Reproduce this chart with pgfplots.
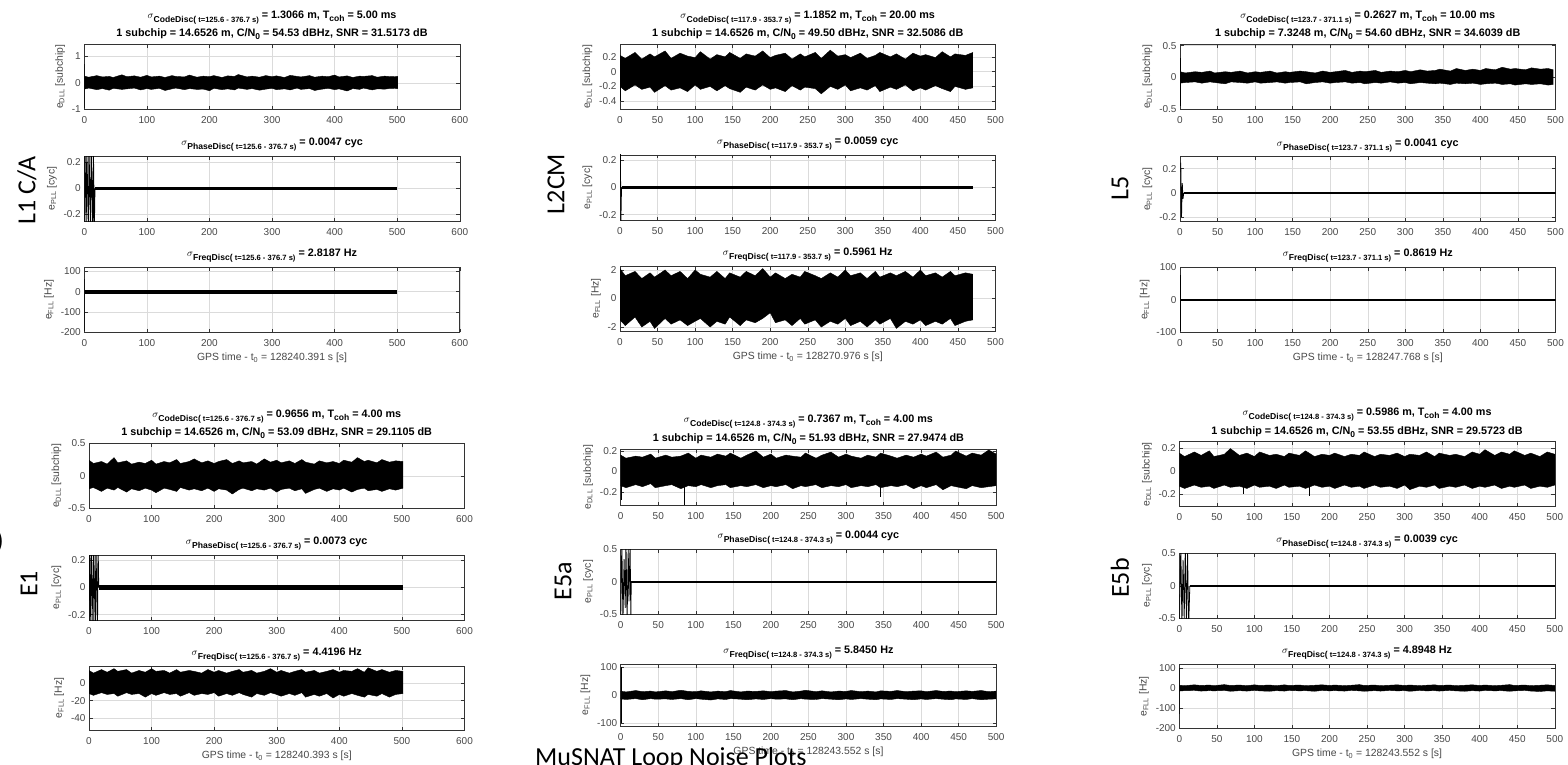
\documentclass[border=0pt]{standalone}
\usepackage{pgfplots}
\pgfplotsset{compat=1.18}
\usepackage{pgfplotstable}
\usepgfplotslibrary{fillbetween}
\usepackage{fontspec}
\setmainfont{Liberation Sans}
\newfontfamily\carlito{Carlito}

% subscripts as MATLAB's tex interpreter sets them
\newcommand\lo[1]{\raisebox{-0.5ex}{\fontsize{8.5}{8.5}\selectfont #1}}
\newcommand\sig[2]{{\normalfont\fontsize{10}{10}\selectfont$\sigma$}\raisebox{-0.7ex}{\fontsize{8.6}{8.6}\selectfont #1(\fontsize{7.6}{7.6}\selectfont\ #2)}\ }

% noise envelopes: x, upper, lower
\pgfplotstableread[row sep=\\]{x u l\\
0 0.25 -0.24\\ 7 0.21 -0.20\\ 20 0.27 -0.26\\ 29 0.22 -0.22\\ 40 0.24 -0.28\\ 46 0.20 -0.21\\ 60 0.30 -0.25\\ 68 0.23 -0.23\\ 80 0.26 -0.20\\ 90 0.21 -0.27\\
100 0.28 -0.22\\ 107 0.22 -0.25\\ 120 0.25 -0.21\\ 129 0.20 -0.29\\ 140 0.27 -0.23\\ 146 0.24 -0.20\\ 160 0.22 -0.26\\ 168 0.29 -0.22\\ 180 0.21 -0.25\\ 190 0.25 -0.24\\
200 0.23 -0.30\\ 207 0.27 -0.21\\ 220 0.20 -0.26\\ 229 0.26 -0.23\\ 240 0.24 -0.27\\ 246 0.31 -0.20\\ 260 0.22 -0.25\\ 268 0.25 -0.22\\ 280 0.21 -0.28\\ 290 0.27 -0.24\\
300 0.23 -0.21\\ 307 0.26 -0.26\\ 320 0.20 -0.23\\ 329 0.28 -0.27\\ 340 0.24 -0.20\\ 346 0.22 -0.25\\ 360 0.27 -0.22\\ 368 0.21 -0.29\\ 380 0.25 -0.24\\ 390 0.23 -0.21\\
400 0.29 -0.26\\ 407 0.22 -0.23\\ 420 0.26 -0.31\\ 429 0.20 -0.22\\ 440 0.25 -0.25\\ 446 0.24 -0.20\\ 460 0.27 -0.27\\ 468 0.21 -0.23\\ 480 0.25 -0.24\\ 490 0.23 -0.21\\ 501 0.24 -0.22\\
}\dllA
\pgfplotstableread[row sep=\\]{x u l\\
0 0.22 -0.20\\ 7 0.18 -0.26\\ 20 0.26 -0.18\\ 29 0.17 -0.24\\ 40 0.24 -0.21\\ 46 0.20 -0.28\\ 60 0.28 -0.19\\ 68 0.18 -0.25\\ 80 0.25 -0.22\\ 90 0.21 -0.27\\
100 0.19 -0.18\\ 107 0.27 -0.24\\ 120 0.17 -0.20\\ 129 0.23 -0.26\\ 140 0.20 -0.19\\ 146 0.26 -0.23\\ 160 0.18 -0.28\\ 168 0.24 -0.21\\ 180 0.21 -0.25\\ 190 0.28 -0.18\\
200 0.19 -0.24\\ 207 0.22 -0.22\\ 220 0.25 -0.27\\ 229 0.17 -0.19\\ 240 0.24 -0.25\\ 246 0.20 -0.21\\ 260 0.26 -0.23\\ 268 0.18 -0.30\\ 280 0.29 -0.20\\ 290 0.21 -0.24\\
300 0.23 -0.18\\ 307 0.19 -0.26\\ 320 0.25 -0.22\\ 329 0.18 -0.25\\ 340 0.22 -0.19\\ 346 0.26 -0.27\\ 360 0.20 -0.21\\ 368 0.24 -0.24\\ 380 0.17 -0.18\\ 390 0.25 -0.26\\
400 0.21 -0.22\\ 407 0.23 -0.25\\ 420 0.19 -0.19\\ 429 0.27 -0.23\\ 440 0.20 -0.27\\ 446 0.24 -0.20\\ 460 0.22 -0.24\\ 470 0.26 -0.22\\
}\dllB
\pgfplotstableread[row sep=\\]{x u l\\
0 2.1 -1.5\\ 7 1.6 -1.9\\ 20 1.9 -1.3\\ 29 1.4 -2.0\\ 40 1.8 -1.6\\ 46 1.5 -2.1\\ 60 2.0 -1.4\\ 68 1.6 -1.8\\ 80 1.9 -1.5\\ 90 1.4 -1.9\\
100 2.0 -1.6\\ 107 1.7 -1.4\\ 120 1.5 -2.0\\ 129 1.9 -1.6\\ 140 1.4 -1.8\\ 146 1.8 -1.3\\ 160 1.5 -1.9\\ 168 1.9 -1.5\\ 180 1.6 -1.7\\ 190 2.1 -1.4\\
200 1.5 -1.0\\ 207 1.8 -1.7\\ 220 1.4 -1.5\\ 229 1.7 -1.9\\ 240 1.5 -1.4\\ 246 1.9 -1.8\\ 260 1.6 -1.5\\ 268 1.4 -2.0\\ 280 1.8 -1.6\\ 290 1.5 -1.8\\
300 2.0 -1.4\\ 307 1.6 -1.9\\ 320 1.8 -1.6\\ 329 1.4 -2.0\\ 340 1.9 -1.5\\ 346 1.5 -1.8\\ 360 1.8 -1.4\\ 368 1.6 -2.1\\ 380 1.9 -1.6\\ 390 1.5 -1.8\\
400 2.0 -1.5\\ 407 1.6 -1.9\\ 420 1.8 -1.6\\ 429 1.5 -1.8\\ 440 1.9 -1.4\\ 446 1.6 -1.9\\ 460 1.8 -1.6\\ 470 1.7 -1.5\\
}\fllB
\pgfplotstableread[row sep=\\]{x u l\\
0 0.09 -0.09\\ 7 0.07 -0.08\\ 20 0.09 -0.07\\ 29 0.08 -0.09\\ 40 0.10 -0.07\\ 46 0.07 -0.08\\ 60 0.09 -0.10\\ 68 0.08 -0.07\\ 80 0.10 -0.08\\ 90 0.07 -0.09\\
100 0.09 -0.07\\ 107 0.08 -0.09\\ 120 0.10 -0.08\\ 129 0.07 -0.07\\ 140 0.09 -0.09\\ 146 0.08 -0.08\\ 160 0.10 -0.07\\ 168 0.09 -0.10\\ 180 0.07 -0.08\\ 190 0.10 -0.07\\
200 0.08 -0.09\\ 207 0.09 -0.08\\ 220 0.11 -0.07\\ 229 0.08 -0.09\\ 240 0.10 -0.08\\ 246 0.09 -0.10\\ 260 0.11 -0.08\\ 268 0.08 -0.09\\ 280 0.10 -0.07\\ 290 0.09 -0.09\\
300 0.11 -0.08\\ 307 0.09 -0.10\\ 320 0.12 -0.08\\ 329 0.10 -0.09\\ 340 0.11 -0.10\\ 346 0.13 -0.09\\ 360 0.10 -0.11\\ 368 0.14 -0.09\\ 380 0.11 -0.10\\ 390 0.13 -0.09\\
400 0.11 -0.11\\ 407 0.14 -0.10\\ 420 0.12 -0.09\\ 429 0.16 -0.11\\ 440 0.13 -0.10\\ 446 0.14 -0.12\\ 460 0.12 -0.10\\ 468 0.15 -0.11\\ 480 0.13 -0.10\\ 490 0.14 -0.12\\ 497 0.12 -0.11\\
}\dllC
\pgfplotstableread[row sep=\\]{x u l\\
0 0.24 -0.20\\ 7 0.19 -0.18\\ 20 0.22 -0.24\\ 29 0.18 -0.19\\ 40 0.28 -0.22\\ 46 0.20 -0.18\\ 60 0.23 -0.25\\ 68 0.18 -0.20\\ 80 0.21 -0.23\\ 90 0.19 -0.19\\
100 0.24 -0.22\\ 107 0.18 -0.26\\ 120 0.22 -0.19\\ 129 0.20 -0.21\\ 140 0.25 -0.24\\ 146 0.19 -0.18\\ 160 0.22 -0.22\\ 168 0.26 -0.20\\ 180 0.20 -0.23\\ 190 0.23 -0.19\\
200 0.19 -0.24\\ 207 0.22 -0.20\\ 220 0.25 -0.22\\ 229 0.19 -0.28\\ 240 0.23 -0.21\\ 246 0.20 -0.19\\ 260 0.22 -0.23\\ 268 0.18 -0.20\\ 280 0.26 -0.22\\ 290 0.21 -0.19\\
300 0.24 -0.25\\ 307 0.20 -0.21\\ 320 0.23 -0.19\\ 329 0.19 -0.23\\ 340 0.25 -0.20\\ 346 0.21 -0.27\\ 360 0.18 -0.21\\ 368 0.23 -0.19\\ 380 0.20 -0.24\\ 390 0.22 -0.20\\
400 0.19 -0.22\\ 407 0.24 -0.19\\ 420 0.21 -0.25\\ 429 0.28 -0.21\\ 440 0.22 -0.19\\ 446 0.24 -0.23\\ 460 0.20 -0.21\\ 468 0.25 -0.24\\ 480 0.21 -0.20\\ 490 0.23 -0.22\\ 502 0.22 -0.19\\
}\dllD
\pgfplotstableread[row sep=\\]{x u l\\
0 14 -12\\ 7 11 -14\\ 20 15 -11\\ 29 12 -13\\ 40 16 -12\\ 46 13 -15\\ 60 15 -11\\ 68 11 -13\\ 80 14 -12\\ 90 12 -16\\
100 16 -12\\ 107 13 -14\\ 120 14 -11\\ 129 11 -13\\ 140 15 -12\\ 146 12 -15\\ 160 14 -11\\ 168 13 -14\\ 180 11 -12\\ 190 15 -13\\
200 12 -11\\ 207 14 -15\\ 220 11 -12\\ 229 13 -14\\ 240 15 -11\\ 246 12 -13\\ 260 14 -16\\ 268 11 -12\\ 280 13 -14\\ 290 16 -11\\
300 12 -13\\ 307 14 -15\\ 320 11 -12\\ 329 13 -14\\ 340 15 -11\\ 346 12 -16\\ 360 14 -13\\ 368 11 -15\\ 380 13 -12\\ 390 15 -17\\
400 12 -13\\ 407 14 -15\\ 420 13 -12\\ 429 16 -14\\ 440 12 -16\\ 446 17 -13\\ 460 13 -15\\ 468 15 -12\\ 480 12 -16\\ 490 14 -13\\ 502 13 -12\\
}\fllD
\pgfplotstableread[row sep=\\]{x u l\\
0 0.16 -0.14\\ 7 0.13 -0.16\\ 20 0.15 -0.13\\ 29 0.14 -0.15\\ 40 0.17 -0.12\\ 46 0.13 -0.16\\ 60 0.16 -0.14\\ 68 0.14 -0.13\\ 80 0.15 -0.17\\ 90 0.18 -0.14\\
100 0.13 -0.15\\ 107 0.16 -0.13\\ 120 0.14 -0.16\\ 129 0.17 -0.14\\ 140 0.15 -0.13\\ 146 0.18 -0.16\\ 160 0.13 -0.14\\ 168 0.16 -0.15\\ 180 0.20 -0.13\\ 190 0.14 -0.16\\
200 0.17 -0.14\\ 207 0.13 -0.15\\ 220 0.16 -0.13\\ 229 0.15 -0.17\\ 240 0.14 -0.14\\ 246 0.18 -0.15\\ 260 0.13 -0.13\\ 268 0.16 -0.16\\ 280 0.19 -0.14\\ 290 0.14 -0.15\\
300 0.17 -0.13\\ 307 0.15 -0.16\\ 320 0.13 -0.14\\ 329 0.16 -0.15\\ 340 0.14 -0.13\\ 346 0.18 -0.16\\ 360 0.15 -0.14\\ 368 0.13 -0.15\\ 380 0.16 -0.13\\ 390 0.14 -0.17\\
400 0.17 -0.14\\ 407 0.15 -0.16\\ 420 0.19 -0.13\\ 429 0.14 -0.18\\ 440 0.16 -0.14\\ 446 0.20 -0.15\\ 460 0.15 -0.17\\ 468 0.18 -0.14\\ 480 0.16 -0.16\\ 490 0.21 -0.15\\ 500 0.17 -0.14\\
}\dllE
\pgfplotstableread[row sep=\\]{x u l\\
0 15 -13\\ 7 12 -15\\ 20 17 -12\\ 29 13 -16\\ 40 15 -12\\ 46 12 -14\\ 60 16 -13\\ 68 13 -15\\ 80 18 -12\\ 90 14 -16\\
100 13 -12\\ 107 16 -14\\ 120 12 -17\\ 129 15 -13\\ 140 13 -15\\ 146 17 -12\\ 160 12 -14\\ 168 15 -16\\ 180 14 -13\\ 190 16 -15\\
200 13 -12\\ 207 15 -14\\ 220 17 -13\\ 229 12 -16\\ 240 15 -12\\ 246 18 -14\\ 260 13 -15\\ 268 16 -12\\ 280 12 -14\\ 290 15 -16\\
300 14 -13\\ 307 17 -15\\ 320 13 -12\\ 329 15 -14\\ 340 12 -16\\ 346 16 -13\\ 360 14 -15\\ 368 17 -12\\ 380 13 -14\\ 390 15 -16\\
400 16 -13\\ 407 13 -15\\ 420 17 -12\\ 429 14 -14\\ 440 15 -16\\ 446 13 -13\\ 460 16 -15\\ 468 14 -12\\ 480 17 -16\\ 490 13 -14\\ 500 15 -13\\
}\fllE
\pgfplotstableread[row sep=\\]{x u l\\
0 0.16 -0.13\\ 7 0.13 -0.15\\ 20 0.17 -0.12\\ 29 0.14 -0.14\\ 40 0.18 -0.13\\ 46 0.13 -0.15\\ 60 0.15 -0.12\\ 68 0.20 -0.14\\ 80 0.14 -0.13\\ 90 0.16 -0.15\\
100 0.13 -0.12\\ 107 0.17 -0.14\\ 120 0.14 -0.13\\ 129 0.15 -0.15\\ 140 0.13 -0.12\\ 146 0.16 -0.14\\ 160 0.14 -0.13\\ 168 0.18 -0.15\\ 180 0.13 -0.12\\ 190 0.15 -0.14\\
200 0.14 -0.13\\ 207 0.16 -0.15\\ 220 0.13 -0.12\\ 229 0.15 -0.14\\ 240 0.14 -0.13\\ 246 0.17 -0.15\\ 260 0.13 -0.12\\ 268 0.15 -0.14\\ 280 0.14 -0.13\\ 290 0.16 -0.15\\
300 0.13 -0.12\\ 307 0.15 -0.16\\ 320 0.14 -0.13\\ 329 0.17 -0.14\\ 340 0.13 -0.12\\ 346 0.16 -0.15\\ 360 0.14 -0.13\\ 368 0.15 -0.14\\ 380 0.13 -0.12\\ 390 0.17 -0.15\\
400 0.15 -0.13\\ 407 0.19 -0.14\\ 420 0.14 -0.12\\ 429 0.17 -0.15\\ 440 0.15 -0.13\\ 446 0.18 -0.14\\ 460 0.14 -0.12\\ 468 0.16 -0.15\\ 480 0.13 -0.13\\ 490 0.17 -0.14\\ 500 0.15 -0.12\\
}\dllF
\pgfplotstableread[row sep=\\]{x u l\\
0 14 -15\\ 7 12 -13\\ 20 16 -12\\ 29 13 -15\\ 40 15 -13\\ 46 12 -14\\ 60 17 -12\\ 68 13 -16\\ 80 15 -13\\ 90 12 -15\\
100 16 -12\\ 107 13 -14\\ 120 15 -16\\ 129 12 -13\\ 140 16 -15\\ 146 13 -12\\ 160 15 -14\\ 168 12 -13\\ 180 14 -16\\ 190 16 -12\\
200 13 -14\\ 207 15 -13\\ 220 12 -15\\ 229 14 -12\\ 240 17 -14\\ 246 13 -16\\ 260 15 -13\\ 268 12 -15\\ 280 14 -12\\ 290 16 -14\\
300 13 -13\\ 307 15 -16\\ 320 12 -12\\ 329 14 -14\\ 340 16 -13\\ 346 13 -15\\ 360 15 -12\\ 368 12 -14\\ 380 14 -16\\ 390 16 -13\\
400 13 -15\\ 407 15 -12\\ 420 12 -14\\ 429 14 -13\\ 440 17 -16\\ 446 13 -14\\ 460 15 -12\\ 468 12 -15\\ 480 14 -17\\ 490 16 -14\\ 500 13 -16\\
}\fllF

\pgfplotsset{
  mat/.style={scale only axis, width=375.5pt, height=65pt, xmin=0, anchor=north west,
    axis line style={black!80, line width=0.6pt},
    every tick/.style={black!80, line width=0.5pt},
    tick align=inside, major tick length=3.5pt,
    xmajorgrids, ymajorgrids, grid style={black!14, line width=0.5pt},
    ticklabel style={font=\fontsize{10}{10}\selectfont, text=black!72},
    xticklabel style={yshift=-3.5pt},
    /pgf/number format/assume math mode=true,
    label style={font=\fontsize{10.4}{11}\selectfont, text=black!72},
    title style={font=\bfseries\fontsize{10.8}{13}\selectfont, align=center, yshift=-5pt}},
  xa/.style={xmax=600, xtick={0,100,...,600}},
  xb/.style={xmax=500, xtick={0,50,...,500}},
  dll/.style={ylabel={e\textsubscript{DLL} [subchip]}},
  pll/.style={ylabel={e\textsubscript{PLL} [cyc]}},
  fll/.style={ylabel={e\textsubscript{FLL} [Hz]}},
  nz/.style={black, line width=0.4pt},
}

\begin{document}
\begin{tikzpicture}

% ---------------- L1 C/A ----------------
\begin{axis}[mat, xa, dll, at={(84.3pt,-44.3pt)}, ymin=-1, ymax=1.45, ytick={-1,0,1},
  title={\sig{CodeDisc}{t=125.6 - 376.7 s}= 1.3066 m, T\lo{coh} = 5.00 ms\\[4pt]1 subchip = 14.6526 m, C/N\lo{0} = 54.53 dBHz, SNR = 31.5173 dB}]
\addplot[nz, name path=uA] table[x=x, y=u] {\dllA};
\addplot[nz, name path=lA] table[x=x, y=l] {\dllA};
\addplot[black] fill between[of=uA and lA];
\addplot[black, line width=0.6pt] coordinates {(0.5,0.7) (0.5,-0.95)};
\end{axis}
\begin{axis}[mat, xa, pll, at={(84.3pt,-156pt)}, ymin=-0.25, ymax=0.25, ytick={-0.2,0,0.2},
  title={\sig{PhaseDisc}{t=125.6 - 376.7 s}= 0.0047 cyc}]
\addplot[black, line width=0.9pt] coordinates {(0,-0.3) (1,0.3) (3,-0.3) (4,0.3) (6.5,-0.3) (7.5,0.3) (10,-0.3) (11,0.3) (13.5,-0.3) (14.5,0.3) (16,-0.3) (17,0)};
\addplot[black, line width=3pt] coordinates {(17,0) (500,0)};
\end{axis}
\begin{axis}[mat, xa, fll, at={(84.3pt,-267.3pt)}, ymin=-200, ymax=120, ytick={-200,-100,0,100},
  xlabel={GPS time - t\textsubscript{0} = 128240.391 s [s]},
  title={\sig{FreqDisc}{t=125.6 - 376.7 s}= 2.8187 Hz}]
\addplot[black, line width=4pt] coordinates {(1,0) (500,0)};
\addplot[black, line width=0.6pt] coordinates {(0.5,60) (0.5,-195)};
\end{axis}

% ---------------- L2CM ----------------
\begin{axis}[mat, xb, dll, at={(620pt,-44.3pt)}, ymin=-0.51, ymax=0.37, ytick={-0.4,-0.2,0,0.2},
  title={\sig{CodeDisc}{t=117.9 - 353.7 s}= 1.1852 m, T\lo{coh} = 20.00 ms\\[4pt]1 subchip = 14.6526 m, C/N\lo{0} = 49.50 dBHz, SNR = 32.5086 dB}]
\addplot[nz, name path=uB] table[x=x, y=u] {\dllB};
\addplot[nz, name path=lB] table[x=x, y=l] {\dllB};
\addplot[black] fill between[of=uB and lB];
\addplot[black, line width=0.6pt] coordinates {(0.5,0) (0.5,-0.4)};
\end{axis}
\begin{axis}[mat, xb, pll, at={(620pt,-155pt)}, ymin=-0.24, ymax=0.24, ytick={-0.2,0,0.2},
  title={\sig{PhaseDisc}{t=117.9 - 353.7 s}= 0.0059 cyc}]
\addplot[black, line width=0.8pt] coordinates {(0.5,0.25) (1.2,-0.25) (2,0)};
\addplot[black, line width=2.8pt] coordinates {(2,0) (470,0)};
\end{axis}
\begin{axis}[mat, xb, fll, at={(620pt,-266pt)}, ymin=-2.28, ymax=2.28, ytick={-2,0,2},
  xlabel={GPS time - t\textsubscript{0} = 128270.976 s [s]},
  title={\sig{FreqDisc}{t=117.9 - 353.7 s}= 0.5961 Hz}]
\addplot[nz, name path=uBf] table[x=x, y=u] {\fllB};
\addplot[nz, name path=lBf] table[x=x, y=l] {\fllB};
\addplot[black] fill between[of=uBf and lBf];
\end{axis}

% ---------------- L5 ----------------
\begin{axis}[mat, xb, dll, at={(1180pt,-44.3pt)}, ymin=-0.5, ymax=0.52, ytick={-0.5,0,0.5},
  title={\sig{CodeDisc}{t=123.7 - 371.1 s}= 0.2627 m, T\lo{coh} = 10.00 ms\\[4pt]1 subchip = 7.3248 m, C/N\lo{0} = 54.60 dBHz, SNR = 34.6039 dB}]
\addplot[nz, name path=uC] table[x=x, y=u] {\dllC};
\addplot[nz, name path=lC] table[x=x, y=l] {\dllC};
\addplot[black] fill between[of=uC and lC];
\addplot[black, line width=0.6pt] coordinates {(0.5,0.3) (0.5,-0.45)};
\end{axis}
\begin{axis}[mat, xb, pll, at={(1180pt,-156.7pt)}, ymin=-0.24, ymax=0.3, ytick={-0.2,0,0.2},
  title={\sig{PhaseDisc}{t=123.7 - 371.1 s}= 0.0041 cyc}]
\addplot[black, line width=0.8pt] coordinates {(1,0.25) (2,-0.2) (3,0.08) (4,-0.05) (5,0)};
\addplot[black, line width=2pt] coordinates {(5,0) (500,0)};
\end{axis}
\begin{axis}[mat, xb, fll, at={(1180pt,-267.3pt)}, ymin=-100, ymax=100, ytick={-100,0,100},
  xlabel={GPS time - t\textsubscript{0} = 128247.768 s [s]},
  title={\sig{FreqDisc}{t=123.7 - 371.1 s}= 0.8619 Hz}]
\addplot[black, line width=1.6pt] coordinates {(1,0) (500,0)};
\addplot[black, line width=0.6pt] coordinates {(0.5,75) (0.5,-95)};
\end{axis}

% ---------------- E1 ----------------
\begin{axis}[mat, xa, dll, at={(89pt,-443.3pt)}, ymin=-0.5, ymax=0.5, ytick={-0.5,0,0.5},
  title={\sig{CodeDisc}{t=125.6 - 376.7 s}= 0.9656 m, T\lo{coh} = 4.00 ms\\[4pt]1 subchip = 14.6526 m, C/N\lo{0} = 53.09 dBHz, SNR = 29.1105 dB}]
\addplot[nz, name path=uD] table[x=x, y=u] {\dllD};
\addplot[nz, name path=lD] table[x=x, y=l] {\dllD};
\addplot[black] fill between[of=uD and lD];
\end{axis}
\begin{axis}[mat, xa, pll, at={(89pt,-555pt)}, ymin=-0.24, ymax=0.24, ytick={-0.2,0,0.2},
  title={\sig{PhaseDisc}{t=125.6 - 376.7 s}= 0.0073 cyc}]
\addplot[black, line width=0.9pt] coordinates {(0,-0.3) (1,0.3) (3,-0.3) (4,0.3) (6.5,-0.3) (7.5,0.3) (10,-0.3) (11,0.3) (13.5,-0.3) (14.5,0.3) (15.5,0)};
\addplot[black, line width=4.5pt] coordinates {(15.5,0) (502,0)};
\end{axis}
\begin{axis}[mat, xa, fll, at={(89pt,-666pt)}, height=64pt, ymin=-53, ymax=19, ytick={-40,-20,0},
  xlabel={GPS time - t\textsubscript{0} = 128240.393 s [s]},
  title={\sig{FreqDisc}{t=125.6 - 376.7 s}= 4.4196 Hz}]
\addplot[nz, name path=uDf] table[x=x, y=u] {\fllD};
\addplot[nz, name path=lDf] table[x=x, y=l] {\fllD};
\addplot[black] fill between[of=uDf and lDf];
\end{axis}

% ---------------- E5a ----------------
\begin{axis}[mat, xb, dll, at={(620.7pt,-449pt)}, height=56pt, ymin=-0.33, ymax=0.22, ytick={-0.2,0,0.2},
  title={\sig{CodeDisc}{t=124.8 - 374.3 s}= 0.7367 m, T\lo{coh} = 4.00 ms\\[4pt]1 subchip = 14.6526 m, C/N\lo{0} = 51.93 dBHz, SNR = 27.9474 dB}]
\addplot[nz, name path=uE] table[x=x, y=u] {\dllE};
\addplot[nz, name path=lE] table[x=x, y=l] {\dllE};
\addplot[black] fill between[of=uE and lE];
\addplot[black, line width=0.6pt] coordinates {(0.5,0) (0.5,-0.28)};
\addplot[black, line width=0.6pt] coordinates {(85,0) (85,-0.33)};
\addplot[black, line width=0.6pt] coordinates {(345,0) (345,-0.25)};
\end{axis}
\begin{axis}[mat, xb, pll, at={(620.7pt,-549.3pt)}, ymin=-0.5, ymax=0.5, ytick={-0.5,0,0.5},
  title={\sig{PhaseDisc}{t=124.8 - 374.3 s}= 0.0044 cyc}]
\addplot[black, line width=0.8pt] coordinates {(0,-0.6) (1.5,0.6) (3,-0.6) (4.5,0.35) (6,-0.4) (7,0.6) (8.5,-0.6) (10,0.5) (11,-0.3) (12.5,0.6) (13.5,-0.6) (14,0)};
\addplot[black, line width=2pt] coordinates {(14,0) (500,0)};
\end{axis}
\begin{axis}[mat, xb, fll, at={(620.7pt,-664pt)}, height=62pt, ymin=-110, ymax=112, ytick={-100,0,100},
  xlabel={GPS time - t\textsubscript{0} = 128243.552 s [s]},
  title={\sig{FreqDisc}{t=124.8 - 374.3 s}= 5.8450 Hz}]
\addplot[nz, name path=uEf] table[x=x, y=u] {\fllE};
\addplot[nz, name path=lEf] table[x=x, y=l] {\fllE};
\addplot[black] fill between[of=uEf and lEf];
\addplot[black, line width=0.6pt] coordinates {(0.5,100) (0.5,-100)};
\end{axis}

% ---------------- E5b ----------------
\begin{axis}[mat, xb, dll, at={(1179.3pt,-441.7pt)}, ymin=-0.31, ymax=0.26, ytick={-0.2,0,0.2},
  title={\sig{CodeDisc}{t=124.8 - 374.3 s}= 0.5986 m, T\lo{coh} = 4.00 ms\\[4pt]1 subchip = 14.6526 m, C/N\lo{0} = 53.55 dBHz, SNR = 29.5723 dB}]
\addplot[nz, name path=uF] table[x=x, y=u] {\dllF};
\addplot[nz, name path=lF] table[x=x, y=l] {\dllF};
\addplot[black] fill between[of=uF and lF];
\addplot[black, line width=0.6pt] coordinates {(85,0) (85,-0.2)};
\addplot[black, line width=0.6pt] coordinates {(173,0) (173,-0.22)};
\end{axis}
\begin{axis}[mat, xb, pll, at={(1179.3pt,-553.3pt)}, ymin=-0.5, ymax=0.5, ytick={-0.5,0,0.5},
  title={\sig{PhaseDisc}{t=124.8 - 374.3 s}= 0.0039 cyc}]
\addplot[black, line width=0.8pt] coordinates {(0,-0.6) (2,0.6) (3.5,-0.6) (5,0.4) (6.5,-0.5) (8,0.6) (9.5,-0.6) (11,0.5) (12.5,-0.6) (14,0)};
\addplot[black, line width=2pt] coordinates {(14,0) (500,0)};
\end{axis}
\begin{axis}[mat, xb, fll, at={(1179.3pt,-664.3pt)}, height=64pt, ymin=-200, ymax=118, ytick={-200,-100,0,100},
  xlabel={GPS time - t\textsubscript{0} = 128243.552 s [s]},
  title={\sig{FreqDisc}{t=124.8 - 374.3 s}= 4.8948 Hz}]
\addplot[nz, name path=uFf] table[x=x, y=u] {\fllF};
\addplot[nz, name path=lFf] table[x=x, y=l] {\fllF};
\addplot[black] fill between[of=uFf and lFf];
\addplot[black, line width=0.6pt] coordinates {(0.5,100) (0.5,-130)};
\end{axis}

% slide labels
\begin{scope}[every node/.style={font=\carlito\fontsize{26}{26}\selectfont, inner sep=0pt}]
\node[rotate=90] at (27pt,-190pt) {L1 C/A};
\node[rotate=90] at (556pt,-184pt) {L2CM};
\node[rotate=90] at (1120pt,-188pt) {L5};
\node[rotate=90] at (29pt,-584pt) {E1};
\node[rotate=90] at (563pt,-581pt) {E5a};
\node[rotate=90] at (1120pt,-578pt) {E5b};
\node[anchor=east] at (4pt,-542pt) {)};
\node[anchor=base west] at (535pt,-765pt) {MuSNAT Loop Noise Plots};
\end{scope}
\pgfresetboundingbox
\useasboundingbox (0pt,0pt) rectangle (1568pt,-765pt);
\end{tikzpicture}
\end{document}
